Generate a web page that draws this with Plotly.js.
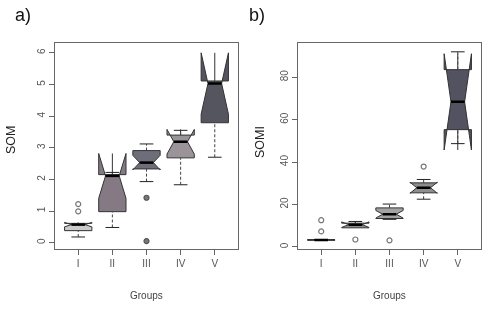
<!DOCTYPE html>
<html>
<head>
<meta charset="utf-8">
<script src="https://cdn.plot.ly/plotly-3.0.1.min.js"></script>
<style>html,body{margin:0;padding:0;background:#fff}#chart{width:503px;height:317px;will-change:transform}</style>
</head>
<body>
<div id="chart"></div>
<script>
// ---- data ----
var groups = ['I', 'II', 'III', 'IV', 'V'];

// panel a) SOM
var somQ1     = [0.38, 0.98, 2.33, 2.68, 3.79];
var somMedian = [0.57, 2.11, 2.53, 3.19, 5.03];
var somQ3     = [0.61, 2.15, 2.91, 3.40, 5.11];
var somLow    = [0.18, 0.48, 1.93, 1.83, 2.70];
var somHigh   = [0.61, 2.22, 3.12, 3.55, 5.11];
var somNotch  = [0.07, 0.71, 0.23, 0.39, 0.97];
var somOutGroup = ['I', 'I', 'III', 'III'];
var somOutValue = [0.99, 1.22, 1.42, 0.05];

// panel b) SOMI
var somiQ1     = [3.2, 9.0, 13.4, 25.5, 55.3];
var somiMedian = [3.3, 10.5, 15.4, 27.9, 68.4];
var somiQ3     = [3.4, 11.2, 18.4, 30.2, 83.6];
var somiLow    = [3.2, 9.0, 13.0, 22.5, 48.7];
var somiHigh   = [3.4, 12.0, 20.2, 31.8, 92.0];
var somiNotch  = [0.2, 1.3, 1.8, 2.6, 22.7];
var somiOutGroup = ['I', 'I', 'II', 'III', 'IV'];
var somiOutValue = [7.3, 12.6, 3.5, 3.1, 37.9];

var somColors  = ['#cacaca', '#857a83', '#6e6e7a', '#9a9399', '#55555f'];
var somiColors = ['#cfcfcf', '#8c8c8c', '#a3a3a3', '#8e8e8e', '#525261'];

// ---- build traces ----
var BOXW = 0.8, NOTCHHALF = 0.2, CAPHALF = 0.2;
function pos(g) { return groups.indexOf(g) + 1; }

function panel(q1, med, q3, lo, hi, notch, colors, outG, outV, xa, ya, outSymbols) {
  var tr = [];
  var wx = [], wy = [], cx = [], cy = [], mx = [], my = [];
  for (var i = 0; i < groups.length; i++) {
    var p = i + 1;
    if (lo[i] < q1[i]) { wx.push(p, p, null); wy.push(lo[i], q1[i], null); }
    if (hi[i] > q3[i]) { wx.push(p, p, null); wy.push(q3[i], hi[i], null); }
    if (lo[i] < q1[i]) { cx.push(p - CAPHALF, p + CAPHALF, null); cy.push(lo[i], lo[i], null); }
    if (hi[i] > q3[i]) { cx.push(p - CAPHALF, p + CAPHALF, null); cy.push(hi[i], hi[i], null); }
    mx.push(p - NOTCHHALF, p + NOTCHHALF, null); my.push(med[i], med[i], null);
  }
  tr.push({type: 'scatter', mode: 'lines', x: wx, y: wy, xaxis: xa, yaxis: ya,
           line: {color: '#444', width: 1, dash: '3px,2px'}, hoverinfo: 'skip', showlegend: false});
  tr.push({type: 'scatter', mode: 'lines', x: cx, y: cy, xaxis: xa, yaxis: ya,
           line: {color: '#222', width: 1}, hoverinfo: 'skip', showlegend: false});
  for (var j = 0; j < groups.length; j++) {
    tr.push({
      type: 'box', x: [j + 1], q1: [q1[j]], median: [med[j]], q3: [q3[j]],
      lowerfence: [q1[j]], upperfence: [q3[j]], notchspan: [notch[j]],
      notched: true, notchwidth: 0.25, width: BOXW, whiskerwidth: 0,
      fillcolor: colors[j], line: {color: '#333', width: 1},
      xaxis: xa, yaxis: ya, hoverinfo: 'skip', showlegend: false, boxpoints: false
    });
  }
  tr.push({type: 'scatter', mode: 'lines', x: mx, y: my, xaxis: xa, yaxis: ya,
           line: {color: '#000', width: 2.5}, hoverinfo: 'skip', showlegend: false});
  tr.push({type: 'scatter', mode: 'markers', x: outG.map(pos), y: outV, xaxis: xa, yaxis: ya,
           marker: {symbol: outSymbols, size: 5, color: '#777', line: {color: '#555', width: 1.2}},
           hoverinfo: 'skip', showlegend: false});
  return tr;
}

var somSym = somOutGroup.map(function (g) { return g === 'I' ? 'circle-open' : 'circle'; });
var somiSym = somiOutGroup.map(function () { return 'circle-open'; });

var data = [].concat(
  panel(somQ1, somMedian, somQ3, somLow, somHigh, somNotch, somColors, somOutGroup, somOutValue, 'x', 'y', somSym),
  panel(somiQ1, somiMedian, somiQ3, somiLow, somiHigh, somiNotch, somiColors, somiOutGroup, somiOutValue, 'x2', 'y2', somiSym)
);

var FAM = 'Liberation Sans, Arial, sans-serif';
function tickFont() { return {family: FAM, size: 10, color: '#555'}; }
function xAxis(domain, anchor) {
  return {domain: domain, anchor: anchor, range: [0.32, 5.68], tickmode: 'array',
          tickvals: [1, 2, 3, 4, 5], ticktext: groups, ticks: 'outside', ticklen: 5,
          tickcolor: '#666', showline: true, linecolor: '#666', linewidth: 1, mirror: true,
          showgrid: false, zeroline: false, tickfont: tickFont()};
}
function yAxis(domain, anchor, range, dtick) {
  return {domain: domain, anchor: anchor, range: range, dtick: dtick, ticks: 'outside',
          ticklen: 5, tickcolor: '#666', showline: true, linecolor: '#666', linewidth: 1,
          mirror: true, showgrid: false, zeroline: false, tickangle: -90, tickfont: tickFont()};
}

var W = 503, H = 317;
function px(x) { return x / W; }
function py(y) { return 1 - y / H; }
var labFont = {family: FAM, size: 12.5, color: '#222'};
var grpFont = {family: FAM, size: 10, color: '#444'};
var panFont = {family: FAM, size: 18, color: '#111'};
function ann(text, x, y, font, angle) {
  return {text: text, x: px(x), y: py(y), xref: 'paper', yref: 'paper', showarrow: false,
          xanchor: 'center', yanchor: 'middle', textangle: angle || 0, font: font};
}

var layout = {
  width: W, height: H, margin: {l: 0, r: 0, t: 0, b: 0},
  paper_bgcolor: '#fff', plot_bgcolor: '#fff', showlegend: false, boxmode: 'overlay',
  xaxis: xAxis([px(55), px(238)], 'y'),
  yaxis: yAxis([py(249), py(43)], 'x', [-0.2, 6.31], 1),
  xaxis2: xAxis([px(298), px(481)], 'y2'),
  yaxis2: yAxis([py(248.5), py(42.7)], 'x2', [-0.75, 96.3], 20),
  annotations: [
    ann('a)', 23, 15, panFont),
    ann('b)', 257, 15, panFont),
    ann('SOM', 11, 140, labFont, -90),
    ann('SOMI', 260, 142, labFont, -90),
    ann('Groups', 146.5, 295.5, grpFont),
    ann('Groups', 389, 295.5, grpFont)
  ]
};

Plotly.newPlot('chart', data, layout, {staticPlot: true, displayModeBar: false});
</script>
</body>
</html>
